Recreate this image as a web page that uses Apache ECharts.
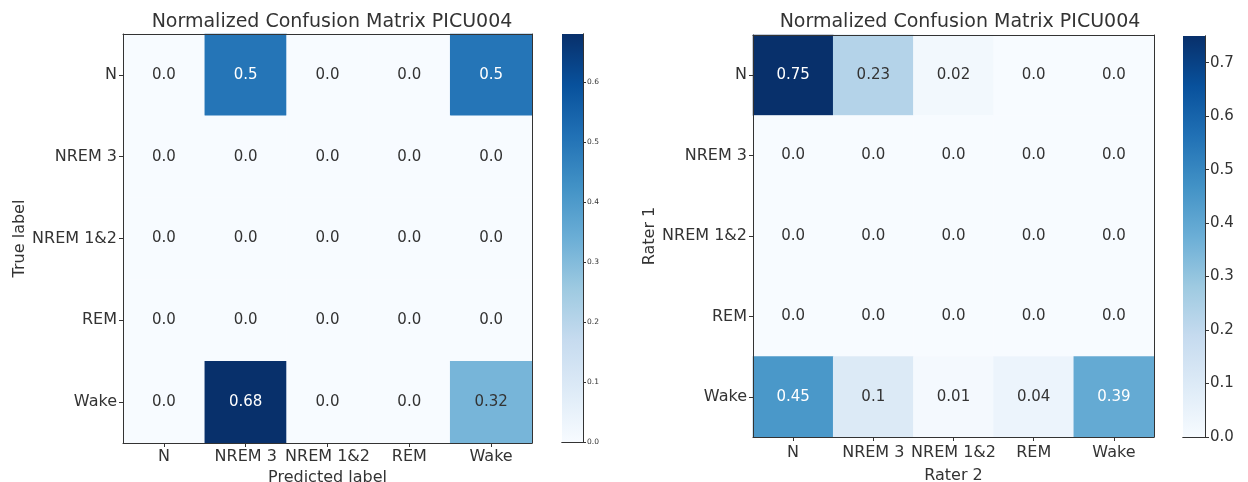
<!DOCTYPE html>
<html><head><meta charset="utf-8">
<script src="https://cdn.jsdelivr.net/npm/echarts@6/dist/echarts.min.js"></script>
<style>html,body{margin:0;padding:0;background:#fff}#c{width:1248px;height:482px}</style>
</head><body><div id="c"></div>
<script>
const labels = ['N', 'NREM 3', 'NREM 1&2', 'REM', 'Wake'];
const leftTitle = 'Normalized Confusion Matrix PICU004';
const rightTitle = 'Normalized Confusion Matrix PICU004';
const leftMatrix = [
  [0.0, 0.5, 0.0, 0.0, 0.5],
  [0.0, 0.0, 0.0, 0.0, 0.0],
  [0.0, 0.0, 0.0, 0.0, 0.0],
  [0.0, 0.0, 0.0, 0.0, 0.0],
  [0.0, 0.68, 0.0, 0.0, 0.32]
];
const rightMatrix = [
  [0.75, 0.23, 0.02, 0.0, 0.0],
  [0.0, 0.0, 0.0, 0.0, 0.0],
  [0.0, 0.0, 0.0, 0.0, 0.0],
  [0.0, 0.0, 0.0, 0.0, 0.0],
  [0.45, 0.1, 0.01, 0.04, 0.39]
];
const leftMax = 0.68;
const rightMax = 0.75;
const blues = ['#f7fbff','#deebf7','#c6dbef','#9ecae1','#6baed6','#4292c6','#2171b5','#08519c','#08306b'];
const FONT = 'DejaVu Sans';
const TXT_COLOR = '#333333';

function fmt(v){ let s = v.toFixed(2); if (s.endsWith('0')) s = s.slice(0, -1); return s; }
function cells(m, max){
  const out = [];
  m.forEach((row, r) => row.forEach((v, c) => {
    out.push({value: [c, r, v], label: {color: v > max / 2 ? '#ffffff' : TXT_COLOR}});
  }));
  return out;
}
function gradient(){
  return new echarts.graphic.LinearGradient(0, 1, 0, 0, blues.map((c, i) => ({offset: i / (blues.length - 1), color: c})));
}
const G = [
  {left: 123, top: 34, width: 409, height: 409, outerBoundsMode: 'none', containLabel: false},
  {left: 562, top: 34, width: 21, height: 408, outerBoundsMode: 'none', containLabel: false},
  {left: 753, top: 35, width: 401, height: 402, outerBoundsMode: 'none', containLabel: false},
  {left: 1183, top: 36, width: 22, height: 401, outerBoundsMode: 'none', containLabel: false}
];
const lineS = {show: true, lineStyle: {color: '#333', width: 1}};
const txt = {fontFamily: FONT, fontSize: 16, color: TXT_COLOR};
function catX(gi, name, gap, margin){
  return {type: 'category', gridIndex: gi, data: labels, position: 'bottom', z: 10,
    axisLine: lineS, axisTick: {show: true, alignWithLabel: true, length: 4, lineStyle: {color: '#333'}},
    axisLabel: Object.assign({margin: margin, interval: 0}, txt), splitLine: {show: false}, splitArea: {show: false},
    name: name, nameLocation: 'middle', nameGap: gap, nameTextStyle: txt};
}
function catY(gi, name, gap){
  return {type: 'category', gridIndex: gi, data: labels, inverse: true, z: 10,
    axisLine: lineS, axisTick: {show: true, alignWithLabel: true, length: 4, lineStyle: {color: '#333'}},
    axisLabel: Object.assign({margin: 6, interval: 0}, txt), splitLine: {show: false}, splitArea: {show: false},
    name: name, nameLocation: 'middle', nameGap: gap, nameRotate: 90, nameTextStyle: txt};
}
function frameX(gi){ return {type: 'category', gridIndex: gi, position: 'top', data: ['c'], z: 10, axisLine: lineS, axisTick: {show: false}, axisLabel: {show: false}}; }
function frameY(gi){ return {type: 'value', gridIndex: gi, position: 'right', z: 10, axisLine: lineS, axisTick: {show: false}, axisLabel: {show: false}, splitLine: {show: false}}; }

const option = {
  animation: false,
  backgroundColor: '#fff',
  title: [
    {text: leftTitle, left: 327, top: 8, textAlign: 'center', textStyle: {fontFamily: FONT, fontSize: 19, fontWeight: 'normal', color: TXT_COLOR}},
    {text: rightTitle, left: 955, top: 8, textAlign: 'center', textStyle: {fontFamily: FONT, fontSize: 19, fontWeight: 'normal', color: TXT_COLOR}}
  ],
  grid: G,
  xAxis: [
    catX(0, 'Predicted label', 24, 6),
    {type: 'category', gridIndex: 1, data: ['c'], z: 10, axisLine: lineS, axisTick: {show: false}, axisLabel: {show: false}},
    catX(2, 'Rater 2', 31, 8),
    {type: 'category', gridIndex: 3, data: ['c'], z: 10, axisLine: lineS, axisTick: {show: false}, axisLabel: {show: false}},
    frameX(0), frameX(1), frameX(2), frameX(3)
  ],
  yAxis: [
    catY(0, 'True label', 95),
    {type: 'value', gridIndex: 1, min: 0, max: leftMax, interval: 0.1, position: 'right', z: 10,
      axisLine: lineS, axisTick: {show: true, length: 3, lineStyle: {color: '#333'}},
      axisLabel: {fontFamily: FONT, fontSize: 7.5, color: TXT_COLOR, margin: 4, formatter: v => v.toFixed(1), showMaxLabel: false},
      splitLine: {show: false}},
    catY(2, 'Rater 1', 95),
    {type: 'value', gridIndex: 3, min: 0, max: rightMax, interval: 0.1, position: 'right', z: 10,
      axisLine: lineS, axisTick: {show: true, length: 4, lineStyle: {color: '#333'}},
      axisLabel: {fontFamily: FONT, fontSize: 15, color: TXT_COLOR, margin: 5, formatter: v => v.toFixed(1), showMaxLabel: false},
      splitLine: {show: false}},
    frameY(0), frameY(1), frameY(2), frameY(3)
  ],
  visualMap: [
    {type: 'continuous', show: false, min: 0, max: leftMax, seriesIndex: 0, dimension: 2, inRange: {color: blues}},
    {type: 'continuous', show: false, min: 0, max: rightMax, seriesIndex: 1, dimension: 2, inRange: {color: blues}}
  ],
  series: [
    {type: 'heatmap', xAxisIndex: 0, yAxisIndex: 0, data: cells(leftMatrix, leftMax),
      label: {show: true, fontFamily: FONT, fontSize: 15, formatter: p => fmt(p.value[2])}},
    {type: 'heatmap', xAxisIndex: 2, yAxisIndex: 2, data: cells(rightMatrix, rightMax),
      label: {show: true, fontFamily: FONT, fontSize: 15, formatter: p => fmt(p.value[2])}},
    {type: 'bar', xAxisIndex: 1, yAxisIndex: 1, data: [leftMax], barWidth: '100%', itemStyle: {color: gradient()}, silent: true},
    {type: 'bar', xAxisIndex: 3, yAxisIndex: 3, data: [rightMax], barWidth: '100%', itemStyle: {color: gradient()}, silent: true}
  ]
};
echarts.init(document.getElementById('c')).setOption(option);
</script></body></html>
